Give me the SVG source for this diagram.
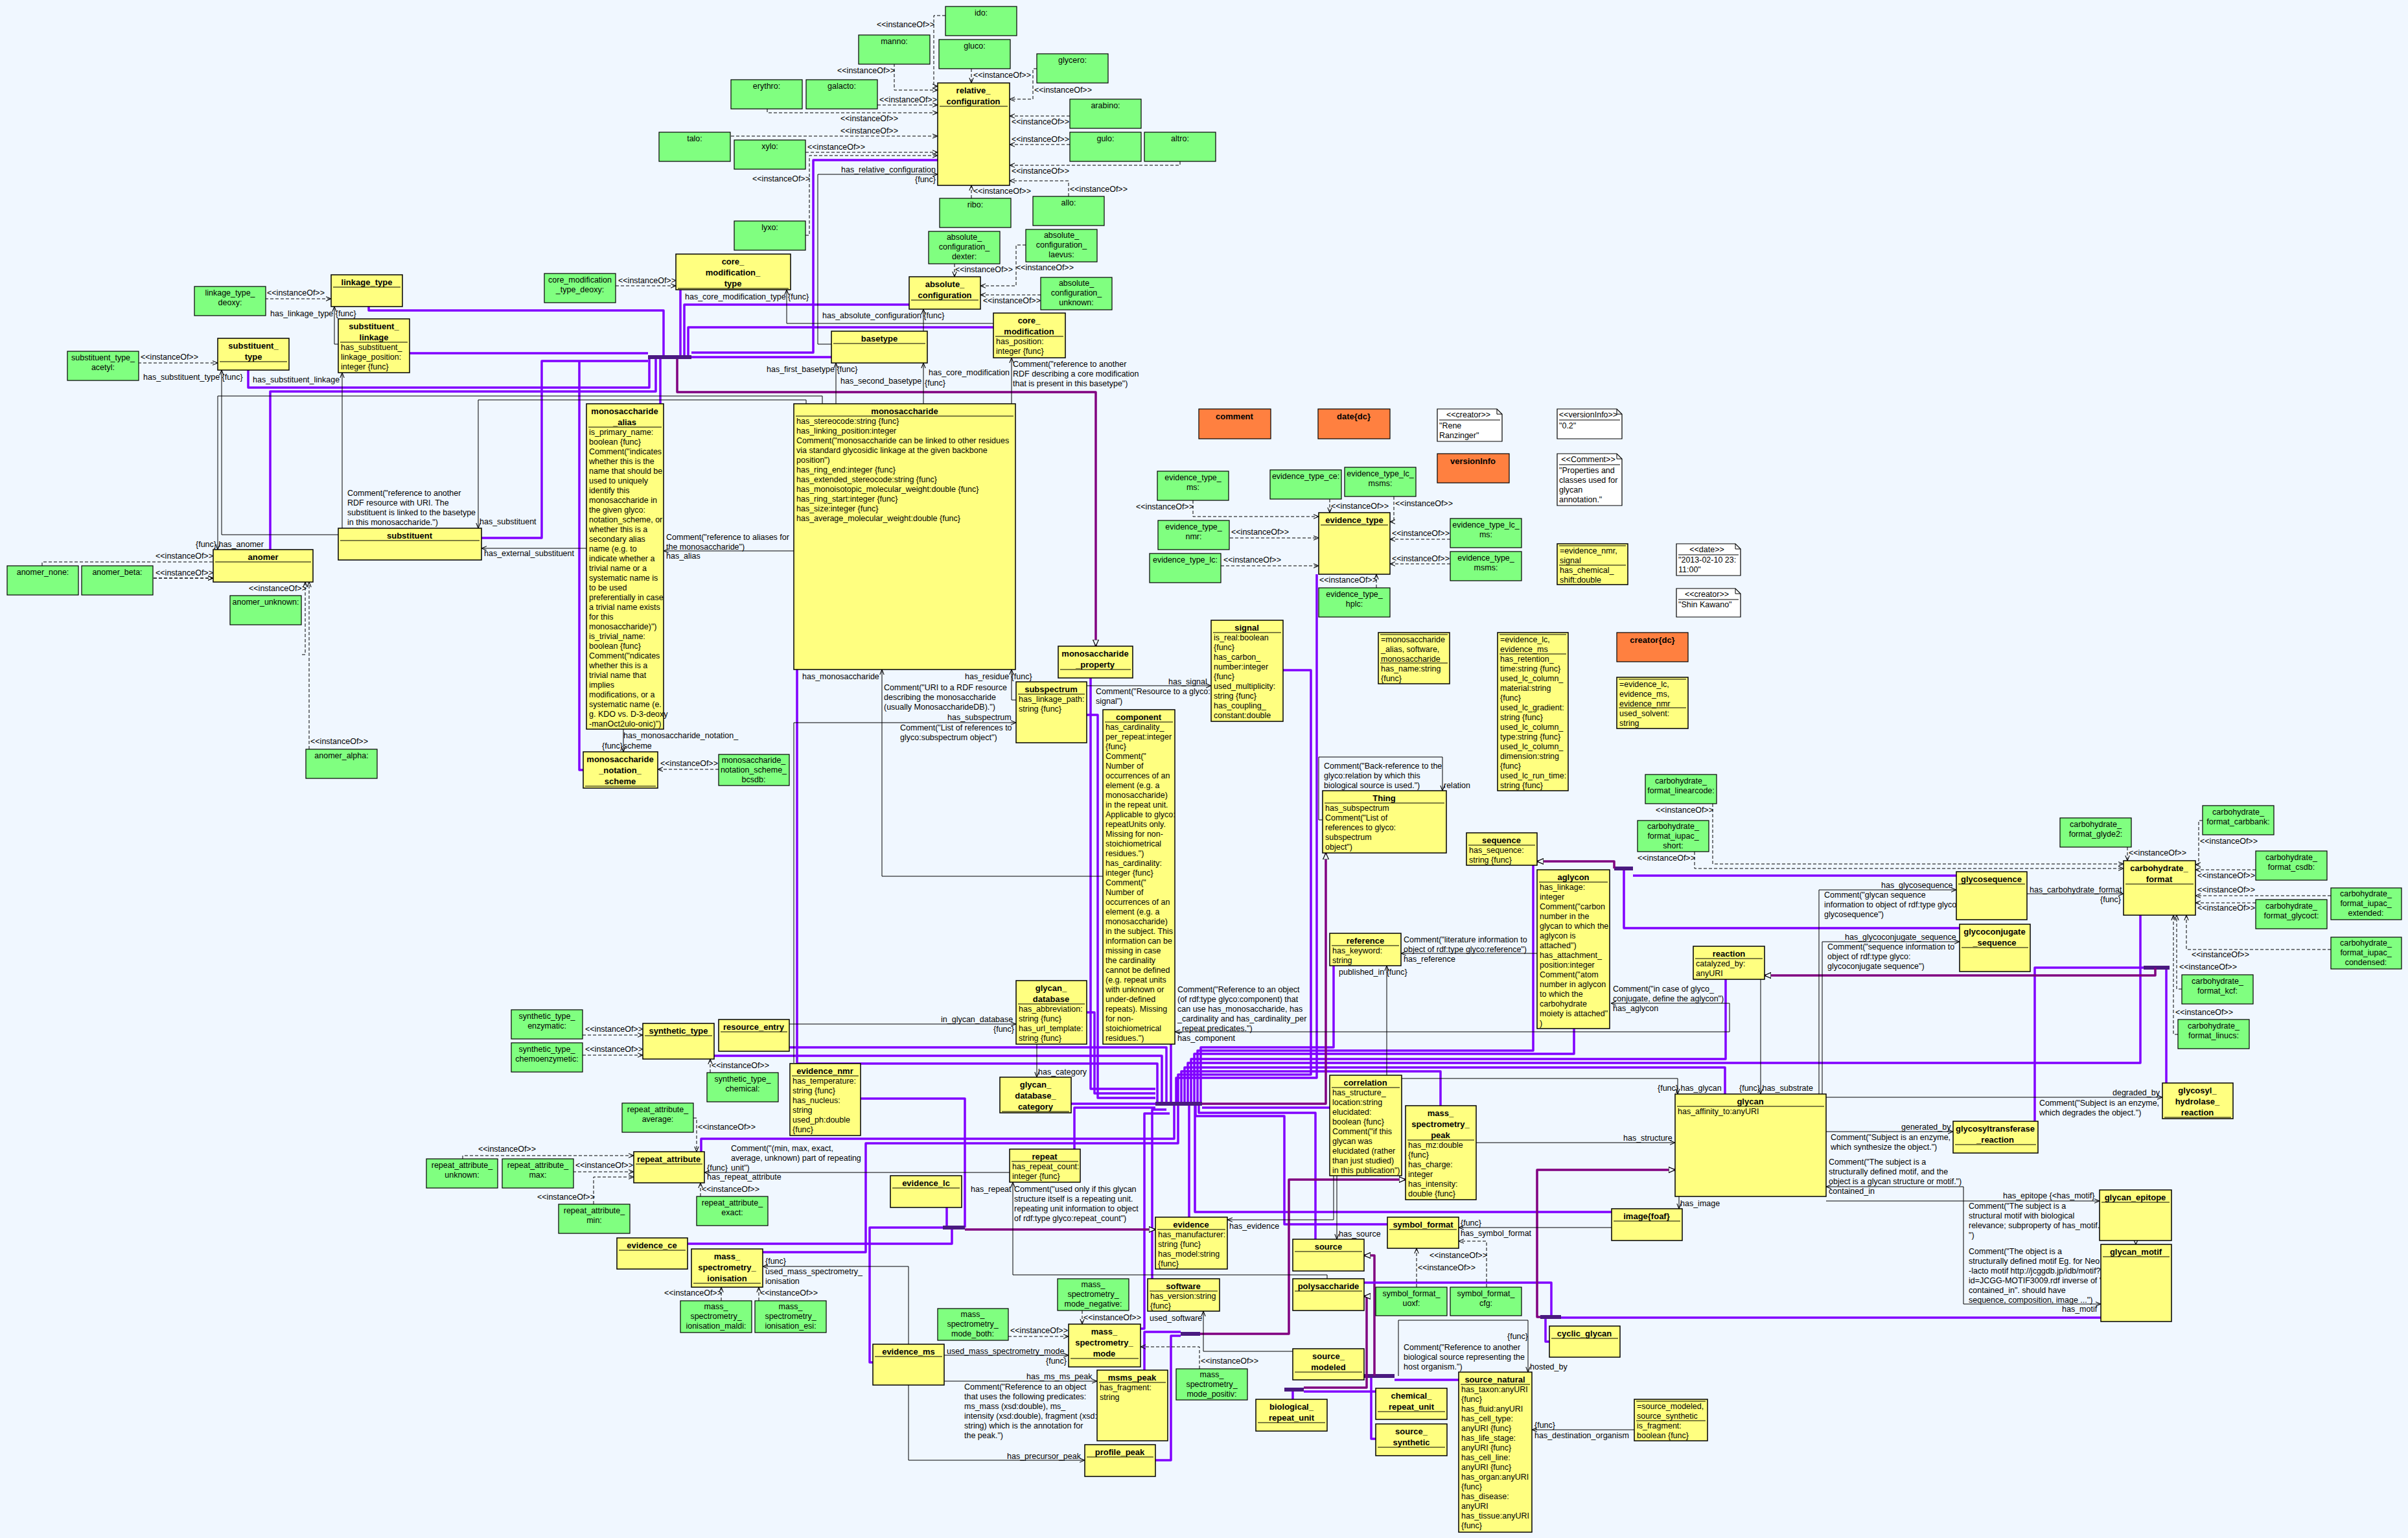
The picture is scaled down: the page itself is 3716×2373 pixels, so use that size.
<svg xmlns="http://www.w3.org/2000/svg" width="3716" height="2373" viewBox="0 0 3716 2373">
<style>
text{font-family:"Liberation Sans",Arial,sans-serif;font-size:12.5px;fill:#000}
.t{font-weight:bold;font-size:13px;text-anchor:middle}
.m{text-anchor:middle}
.y{fill:#ffff80;stroke:#000;stroke-width:1.5}
.g{fill:#80ff80;stroke:#000;stroke-width:1.2}
.o{fill:#ff8040;stroke:#000;stroke-width:1.2}
.n{fill:#fff;stroke:#000;stroke-width:1.2}
.s{stroke:#000;stroke-width:1;fill:none}
.c{stroke:#000;stroke-width:1;fill:none;marker-end:url(#ar)}
.d{stroke-dasharray:5 3}
.p{stroke:#8000ff;stroke-width:3.5;fill:none;stroke-linejoin:round}
.q{stroke:#800080;stroke-width:3.5;fill:none;stroke-linejoin:round;marker-end:url(#tri)}
.bar{stroke:#4a1a80;stroke-width:6;fill:none}
</style>
<defs>
<marker id="ar" viewBox="0 0 10 10" refX="10" refY="5" markerWidth="8" markerHeight="8" orient="auto-start-reverse" markerUnits="userSpaceOnUse"><path d="M0,1 L10,5 L0,9" fill="none" stroke="#000" stroke-width="1.3"/></marker>
<marker id="tri" viewBox="0 0 10 10" refX="10" refY="5" markerWidth="10" markerHeight="10" orient="auto" markerUnits="userSpaceOnUse"><path d="M0,0.5 L10,5 L0,9.5 Z" fill="#f0f7ff" stroke="#000" stroke-width="1.2"/></marker>
</defs>
<rect width="3716" height="2373" fill="#f0f7ff"/>

<g id="connectors">
<!-- generalisation lines (purple) -->
<g id="gen-property">
<path class="p" d="M569 473V479H1024V551M632 545H1000M383 571V598H1002V551M417 848V604H1012V551M743 830H836V557H1000M900 1188H894V557M1019 623V551M1447 247H1255V544H1067M1050 447V551M1403 470H1056V551M1533 505H1062V551M1283 551H1067"/>
<path class="bar" d="M1000 551H1067"/>
<path class="q" d="M1045 554V605H1691V997"/>
</g>
<g id="gen-thing">
<path class="p" d="M1230 1033V1641H1786V1703M1683 1046V1680H1783M1677 1103H1694V1694H1783M1677 1562H1689V1687H1783M1653 1703H1783M1102 1629H1793V1703M1218 1616H1800V1703M1807 1611V1703M1658 1773V1709H1783M1082 1777V1757H1812V1703M1177 1932H1336V1764H1818V1703M1835 1878V1703M1778 1973V1712H1800M1760 2050H1766V1718H1805"/>
<path class="p" d="M2058 1490V1616H1853V1703M2366 1335V1621H1848V1703M2429 1587V1626H1843V1703M2663 1511V1634H1838V1703M3303 1412V1640H1833V1703M2662 1688V1647H1828V1703M2223 1706V1653H1823V1703M1980 1034H2023V1658H1818V1703M2032 886V1663H1815V1703M2052 1709H1855M2030 1912V1717H1850V1703M2141 1889H1982V1722H1845V1703M2487 1870H1844V1703"/>
<path class="bar" d="M1783 1703H1855"/>
<path class="q" d="M1855 1703H2046V1316"/>
</g>
<g id="gen-evidence">
<path class="p" d="M1328 1695H1489V1894M1461 1863V1894M1061 1919H1469V1894M1347 2102H1342V1894H1455"/>
<path class="bar" d="M1455 1894H1489"/>
<path class="q" d="M1489 1897H1783"/>
</g>
<g id="gen-peak">
<path class="p" d="M1766 2114V2055H1822M1783 2253H1807V2061H1822"/>
<path class="bar" d="M1822 2058H1852"/>
<path class="q" d="M1852 2058H1989V1820H2169"/>
</g>
<g id="gen-source">
<path class="p" d="M2251 2129H2152M2123 2220H2116V2123"/>
<path class="bar" d="M2105 2123H2152"/>
<path class="q" d="M2121 2123V1937H2105"/>
</g>
<g id="gen-polysaccharide">
<path class="p" d="M1995 2159V2144M2123 2147H2012"/>
<path class="bar" d="M1982 2144H2012"/>
<path class="q" d="M2012 2141H2109V2000H2105"/>
</g>
<g id="gen-glycan">
<path class="p" d="M2105 1979H2394V2032M2391 2070H2385V2032M3242 2033H2409"/>
<path class="bar" d="M2377 2032H2409"/>
<path class="q" d="M2377 2032H2372V1805H2585"/>
</g>
<g id="gen-reaction">
<path class="p" d="M3140 1730V1493H3308M3343 1671V1493"/>
<path class="bar" d="M3308 1493H3348"/>
<path class="q" d="M3326 1493V1505H2723"/>
</g>
<g id="gen-sequence">
<path class="p" d="M3019 1351H2520M3024 1432H2506V1340"/>
<path class="bar" d="M2491 1340H2520"/>
<path class="q" d="M2491 1340V1329H2372"/>
</g>
<path class="s" d="M3296 1914V1920" marker-end="url(#tri)"/>

<!-- properties and instanceOf links -->
<path class="c d" d="M409 461H511"/>
<path class="c" d="M522 531H516V473"/>
<path class="c d" d="M213 560H336"/>
<path class="c" d="M522 825H342V571"/>
<path class="c" d="M528 815V575"/>
<path class="c" d="M1269 623V611H336V848"/>
<path class="c" d="M1244 623V617H738V815"/>
<path class="c" d="M906 846H743"/>
<path class="c d" d="M65 873V867H329M237 892H329"/>
<path class="c d" d="M237 892H329"/>
<path class="c d" d="M466 1010H471V898"/>
<path class="c d" d="M477 1156V898"/>
<path class="c d" d="M1459 24H1441V133H1447"/>
<path class="c d" d="M1380 98V139H1447"/>
<path class="c d" d="M1499 106V128"/>
<path class="c d" d="M1600 106H1594V153H1558"/>
<path class="c d" d="M1354 162H1447"/>
<path class="c d" d="M1184 168V174H1447"/>
<path class="c d" d="M1128 210H1447"/>
<path class="c d" d="M1243 235H1447"/>
<path class="c d" d="M1243 363H1249V240H1447"/>
<path class="c d" d="M1651 179H1558"/>
<path class="c d" d="M1651 223H1558"/>
<path class="c d" d="M1821 249V255H1558"/>
<path class="c d" d="M1499 306V286"/>
<path class="c d" d="M1649 303V279H1558"/>
<path class="c" d="M1283 531H1262V269H1447"/>
<path class="c d" d="M950 441H1043"/>
<path class="c" d="M1533 499H1214V447"/>
<path class="c d" d="M1473 407V427"/>
<path class="c d" d="M1583 378H1568V441H1513"/>
<path class="c d" d="M1606 455H1513"/>
<path class="c" d="M1425 511V477"/>
<path class="c" d="M1290 623V560"/>
<path class="c" d="M1425 623V560"/>
<path class="c" d="M1561 623V552"/>
<path class="c" d="M1225 850H1024"/>
<path class="c" d="M962 1125V1160"/>
<path class="c d" d="M1109 1187H1015"/>
<path class="c" d="M1702 1352H1361V1033"/>
<path class="c" d="M1568 1080H1561V1033"/>
<path class="c" d="M1225 1640V1115H1568"/>
<path class="c" d="M1677 1058H1869"/>
<path class="c d" d="M1841 772V797H2035"/>
<path class="c d" d="M1898 830H2035"/>
<path class="c d" d="M1884 873H2035"/>
<path class="c d" d="M2052 770V791"/>
<path class="c d" d="M2151 766V805H2145"/>
<path class="c d" d="M2238 832H2145"/>
<path class="c d" d="M2238 870H2145"/>
<path class="c d" d="M2124 907V886"/>
<path class="c" d="M2041 1265H2035V1168H2226V1220"/>
<path class="c d" d="M2643 1240V1333H3277"/>
<path class="c d" d="M2615 1314V1340H3277"/>
<path class="c d" d="M3283 1307V1328"/>
<path class="c d" d="M3399 1266H3393V1334H3388"/>
<path class="c d" d="M3481 1342H3388"/>
<path class="c d" d="M3597 1382H3388"/>
<path class="c d" d="M3481 1393H3388"/>
<path class="c d" d="M3597 1465H3374V1412"/>
<path class="c d" d="M3367 1526H3359V1412"/>
<path class="c d" d="M3361 1596H3354V1412"/>
<path class="c" d="M2807 1688V1373H3019"/>
<path class="c" d="M2812 1688V1453H3024"/>
<path class="c" d="M3128 1379H3277"/>
<path class="c" d="M2818 1693H3337"/>
<path class="c" d="M2818 1746H3014"/>
<path class="c" d="M3242 2012H3030V1831H2818" marker-start="url(#ar)"/>
<path class="c" d="M2818 1853H3240"/>
<path class="c" d="M2372 1471H2162"/>
<path class="c" d="M2140 1659V1490"/>
<path class="c" d="M1813 1592H2669V1548H2486" marker-start="url(#ar)"/>
<path class="c" d="M2163 1664H2589V1688"/>
<path class="c" d="M2717 1511V1688"/>
<path class="c" d="M2278 1763H2585"/>
<path class="c" d="M2591 1846V1865"/>
<path class="c" d="M2058 1814V1882H1894"/>
<path class="c" d="M2063 1814V1912"/>
<path class="c" d="M2487 1894H2251"/>
<path class="c d" d="M2186 1986V1926"/>
<path class="c d" d="M2294 1986V1915H2251"/>
<path class="c" d="M2158 2123V2037H2358V2117"/>
<path class="c" d="M2522 2206H2364"/>
<path class="c" d="M2048 1973V1967H1563V1824"/>
<path class="c" d="M1558 1809H1087"/>
<path class="c d" d="M899 1597H992"/>
<path class="c d" d="M899 1628H992"/>
<path class="c d" d="M1096 1655V1634"/>
<path class="c" d="M1218 1580H1568"/>
<path class="c" d="M1600 1611V1662"/>
<path class="c d" d="M1070 1725H1075V1777"/>
<path class="c d" d="M714 1788V1783H978"/>
<path class="c d" d="M884 1808H978"/>
<path class="c d" d="M916 1858V1816H978"/>
<path class="c d" d="M1081 1846V1825"/>
<path class="c" d="M1402 2074V1954H1177"/>
<path class="c d" d="M1113 2007V1986"/>
<path class="c d" d="M1171 2007V1986"/>
<path class="c" d="M1457 2091H1649"/>
<path class="c" d="M1457 2131H1693"/>
<path class="c" d="M1402 2137V2253H1674"/>
<path class="c d" d="M1670 2022V2043"/>
<path class="c d" d="M1556 2062H1649"/>
<path class="c d" d="M1851 2112V2078H1760"/>
<path class="c" d="M1995 2085H1857V2023"/>

<!-- link labels -->
<g id="labels">
<text x="412" y="456">&lt;&lt;instanceOf&gt;&gt;</text>
<text x="417" y="488">has_linkage_type {func}</text>
<text x="217" y="555">&lt;&lt;instanceOf&gt;&gt;</text>
<text x="221" y="586">has_substituent_type {func}</text>
<text x="390" y="590">has_substituent_linkage</text>
<text x="302" y="844">{func} has_anomer</text>
<text x="740" y="809">has_substituent</text>
<text x="747" y="858">has_external_substituent</text>
<text x="536" y="765">Comment("reference to another</text>
<text x="536" y="780">RDF resource with URI. The</text>
<text x="536" y="795">substituent is linked to the basetype</text>
<text x="536" y="810">in this monosaccharide.")</text>
<text x="240" y="862">&lt;&lt;instanceOf&gt;&gt;</text>
<text x="240" y="888">&lt;&lt;instanceOf&gt;&gt;</text>
<text x="384" y="912">&lt;&lt;instanceOf&gt;&gt;</text>
<text x="479" y="1148">&lt;&lt;instanceOf&gt;&gt;</text>
<text x="1353" y="42">&lt;&lt;instanceOf&gt;&gt;</text>
<text x="1292" y="113">&lt;&lt;instanceOf&gt;&gt;</text>
<text x="1502" y="120">&lt;&lt;instanceOf&gt;&gt;</text>
<text x="1596" y="143">&lt;&lt;instanceOf&gt;&gt;</text>
<text x="1357" y="158">&lt;&lt;instanceOf&gt;&gt;</text>
<text x="1297" y="187">&lt;&lt;instanceOf&gt;&gt;</text>
<text x="1297" y="206">&lt;&lt;instanceOf&gt;&gt;</text>
<text x="1246" y="231">&lt;&lt;instanceOf&gt;&gt;</text>
<text x="1161" y="280">&lt;&lt;instanceOf&gt;&gt;</text>
<text x="1561" y="192">&lt;&lt;instanceOf&gt;&gt;</text>
<text x="1561" y="219">&lt;&lt;instanceOf&gt;&gt;</text>
<text x="1561" y="268">&lt;&lt;instanceOf&gt;&gt;</text>
<text x="1502" y="299">&lt;&lt;instanceOf&gt;&gt;</text>
<text x="1651" y="296">&lt;&lt;instanceOf&gt;&gt;</text>
<text x="1298" y="266">has_relative_configuration</text>
<text x="1412" y="281">{func}</text>
<text x="954" y="437">&lt;&lt;instanceOf&gt;&gt;</text>
<text x="1057" y="462">has_core_modification_type {func}</text>
<text x="1474" y="420">&lt;&lt;instanceOf&gt;&gt;</text>
<text x="1568" y="417">&lt;&lt;instanceOf&gt;&gt;</text>
<text x="1517" y="468">&lt;&lt;instanceOf&gt;&gt;</text>
<text x="1269" y="491">has_absolute_configuration {func}</text>
<text x="1183" y="574">has_first_basetype {func}</text>
<text x="1297" y="592">has_second_basetype</text>
<text x="1427" y="595">{func}</text>
<text x="1433" y="579">has_core_modification</text>
<text x="1563" y="566">Comment("reference to another</text>
<text x="1563" y="581">RDF describing a core modification</text>
<text x="1563" y="596">that is present in this basetype")</text>
<text x="1028" y="833">Comment("reference to aliases for</text>
<text x="1028" y="848">the monosaccharide")</text>
<text x="1028" y="862">has_alias</text>
<text x="962" y="1139">has_monosaccharide_notation_</text>
<text x="929" y="1155">{func}</text>
<text x="962" y="1155">scheme</text>
<text x="1019" y="1182">&lt;&lt;instanceOf&gt;&gt;</text>
<text x="1238" y="1048">has_monosaccharide</text>
<text x="1364" y="1065">Comment("URI to a RDF resource</text>
<text x="1364" y="1080">describing the monosaccharide</text>
<text x="1364" y="1095">(usually MonosaccharideDB).")</text>
<text x="1489" y="1048">has_residue {func}</text>
<text x="1462" y="1111">has_subspectrum</text>
<text x="1389" y="1127">Comment("List of references to</text>
<text x="1389" y="1142">glyco:subspectrum object")</text>
<text x="1803" y="1056">has_signal</text>
<text x="1691" y="1071">Comment("Resource to a glyco:</text>
<text x="1691" y="1086">signal")</text>
<text x="1753" y="786">&lt;&lt;instanceOf&gt;&gt;</text>
<text x="1900" y="825">&lt;&lt;instanceOf&gt;&gt;</text>
<text x="1888" y="868">&lt;&lt;instanceOf&gt;&gt;</text>
<text x="2054" y="785">&lt;&lt;instanceOf&gt;&gt;</text>
<text x="2153" y="781">&lt;&lt;instanceOf&gt;&gt;</text>
<text x="2148" y="827">&lt;&lt;instanceOf&gt;&gt;</text>
<text x="2148" y="866">&lt;&lt;instanceOf&gt;&gt;</text>
<text x="2036" y="899">&lt;&lt;instanceOf&gt;&gt;</text>
<text x="2043" y="1186">Comment("Back-reference to the</text>
<text x="2043" y="1201">glyco:relation by which this</text>
<text x="2043" y="1216">biological source is used.")</text>
<text x="2228" y="1216">relation</text>
<text x="2555" y="1254">&lt;&lt;instanceOf&gt;&gt;</text>
<text x="2527" y="1328">&lt;&lt;instanceOf&gt;&gt;</text>
<text x="3285" y="1320">&lt;&lt;instanceOf&gt;&gt;</text>
<text x="3395" y="1302">&lt;&lt;instanceOf&gt;&gt;</text>
<text x="3391" y="1355">&lt;&lt;instanceOf&gt;&gt;</text>
<text x="3391" y="1377">&lt;&lt;instanceOf&gt;&gt;</text>
<text x="3391" y="1405">&lt;&lt;instanceOf&gt;&gt;</text>
<text x="3382" y="1477">&lt;&lt;instanceOf&gt;&gt;</text>
<text x="3363" y="1496">&lt;&lt;instanceOf&gt;&gt;</text>
<text x="3357" y="1566">&lt;&lt;instanceOf&gt;&gt;</text>
<text x="2903" y="1370">has_glycosequence</text>
<text x="2815" y="1385">Comment("glycan sequence</text>
<text x="2815" y="1400">information to object of rdf:type glyco:</text>
<text x="2815" y="1415">glycosequence")</text>
<text x="2847" y="1450">has_glycoconjugate_sequence</text>
<text x="2820" y="1465">Comment("sequence information to</text>
<text x="2820" y="1480">object of rdf:type glyco:</text>
<text x="2820" y="1495">glycoconjugate sequence")</text>
<text x="3132" y="1377">has_carbohydrate_format</text>
<text x="3241" y="1392">{func}</text>
<text x="3260" y="1690">degraded_by</text>
<text x="3147" y="1706">Comment("Subject is an enzyme,</text>
<text x="3147" y="1721">which degrades the object.")</text>
<text x="2934" y="1743">generated_by</text>
<text x="2825" y="1759">Comment("Subject is an enzyme,</text>
<text x="2825" y="1774">which synthesize the object.")</text>
<text x="2822" y="1797">Comment("The subject is a</text>
<text x="2822" y="1812">structurally defined motif, and the</text>
<text x="2822" y="1827">object is a glycan structure or motif.")</text>
<text x="2822" y="1842">contained_in</text>
<text x="3091" y="1849">has_epitope  {&lt;has_motif}</text>
<text x="3038" y="1865">Comment("The subject is a</text>
<text x="3038" y="1880">structural motif with biological</text>
<text x="3038" y="1895">relevance; subproperty of has_motif.</text>
<text x="3038" y="1910">")</text>
<text x="3038" y="1935">Comment("The object is a</text>
<text x="3038" y="1950">structurally defined motif Eg. for Neo</text>
<text x="3038" y="1965">-lacto motif http://jcggdb.jp/idb/motif?</text>
<text x="3038" y="1980">id=JCGG-MOTIF3009.rdf inverse of "</text>
<text x="3038" y="1995">contained_in". should have</text>
<text x="3038" y="2010">sequence, composition, image ...")</text>
<text x="3182" y="2024">has_motif</text>
<text x="2166" y="1454">Comment("literature information to</text>
<text x="2166" y="1469">object of rdf:type glyco:reference")</text>
<text x="2166" y="1484">has_reference</text>
<text x="2066" y="1504">published_in {func}</text>
<text x="2489" y="1530">Comment("in case of glyco_</text>
<text x="2489" y="1545">conjugate, define the aglycon")</text>
<text x="2489" y="1560">has_aglycon</text>
<text x="1817" y="1531">Comment("Reference to an object</text>
<text x="1817" y="1546">(of rdf:type glyco:component) that</text>
<text x="1817" y="1561">can use has_monosaccharide, has</text>
<text x="1817" y="1576">_cardinality and has_cardinality_per</text>
<text x="1817" y="1591">_repeat predicates.")</text>
<text x="1817" y="1606">has_component</text>
<text x="2558" y="1683">{func} has_glycan</text>
<text x="2684" y="1683">{func} has_substrate</text>
<text x="2505" y="1760">has_structure</text>
<text x="2593" y="1861">has_image</text>
<text x="1897" y="1896">has_evidence</text>
<text x="2066" y="1908">has_source</text>
<text x="2254" y="1891">{func}</text>
<text x="2254" y="1907">has_symbol_format</text>
<text x="2206" y="1941">&lt;&lt;instanceOf&gt;&gt;</text>
<text x="2188" y="1960">&lt;&lt;instanceOf&gt;&gt;</text>
<text x="2326" y="2066">{func}</text>
<text x="2166" y="2083">Comment("Reference to another</text>
<text x="2166" y="2098">biological source representing the</text>
<text x="2166" y="2113">host organism.")</text>
<text x="2361" y="2113">hosted_by</text>
<text x="2368" y="2203">{func}</text>
<text x="2368" y="2219">has_destination_organism</text>
<text x="903" y="1592">&lt;&lt;instanceOf&gt;&gt;</text>
<text x="903" y="1623">&lt;&lt;instanceOf&gt;&gt;</text>
<text x="1098" y="1648">&lt;&lt;instanceOf&gt;&gt;</text>
<text x="1452" y="1577">in_glycan_database</text>
<text x="1533" y="1592">{func}</text>
<text x="1602" y="1658">has_category</text>
<text x="1077" y="1743">&lt;&lt;instanceOf&gt;&gt;</text>
<text x="738" y="1777">&lt;&lt;instanceOf&gt;&gt;</text>
<text x="888" y="1802">&lt;&lt;instanceOf&gt;&gt;</text>
<text x="829" y="1851">&lt;&lt;instanceOf&gt;&gt;</text>
<text x="1083" y="1839">&lt;&lt;instanceOf&gt;&gt;</text>
<text x="1128" y="1776">Comment("(min, max, exact,</text>
<text x="1128" y="1791">average, unknown) part of repeating</text>
<text x="1128" y="1806">unit")</text>
<text x="1091" y="1806">{func}</text>
<text x="1091" y="1820">has_repeat_attribute</text>
<text x="1498" y="1839">has_repeat</text>
<text x="1565" y="1839">Comment("used only if this glycan</text>
<text x="1565" y="1854">structure itself is a repeating unit.</text>
<text x="1565" y="1869">repeating unit information to object</text>
<text x="1565" y="1884">of rdf:type glyco:repeat_count")</text>
<text x="1181" y="1950">{func}</text>
<text x="1181" y="1966">used_mass_spectrometry_</text>
<text x="1181" y="1981">ionisation</text>
<text x="1025" y="1999">&lt;&lt;instanceOf&gt;&gt;</text>
<text x="1173" y="1999">&lt;&lt;instanceOf&gt;&gt;</text>
<text x="1774" y="2038">used_software</text>
<text x="1672" y="2037">&lt;&lt;instanceOf&gt;&gt;</text>
<text x="1559" y="2057">&lt;&lt;instanceOf&gt;&gt;</text>
<text x="1853" y="2104">&lt;&lt;instanceOf&gt;&gt;</text>
<text x="1461" y="2089">used_mass_spectrometry_mode</text>
<text x="1614" y="2104">{func}</text>
<text x="1584" y="2128">has_ms_ms_peak</text>
<text x="1488" y="2144">Comment("Reference to an object</text>
<text x="1488" y="2159">that uses the following predicates:</text>
<text x="1488" y="2174">ms_mass (xsd:double), ms_</text>
<text x="1488" y="2189">intensity (xsd:double), fragment (xsd:</text>
<text x="1488" y="2204">string) which is the annotation for</text>
<text x="1488" y="2219">the peak.")</text>
<text x="1554" y="2251">has_precursor_peak</text>
</g>
</g>

<!-- classes -->
<g id="n-linkage_type"><rect class="y" x="511" y="424" width="110" height="49"/><text class="t" x="566" y="440">linkage_type</text><path class="s" d="M514 443H618"/></g>
<g id="n-substituent_linkage"><rect class="y" x="522" y="492" width="110" height="83"/><text class="t" x="577" y="508">substituent_</text><text class="t" x="577" y="525">linkage</text><path class="s" d="M525 528H629"/><text x="526" y="540">has_substituent_</text><text x="526" y="555">linkage_position:</text><text x="526" y="570">integer {func}</text></g>
<g id="n-substituent_type"><rect class="y" x="336" y="522" width="110" height="49"/><text class="t" x="391" y="538">substituent_</text><text class="t" x="391" y="555">type</text><path class="s" d="M339 558H443"/></g>
<g id="n-substituent"><rect class="y" x="522" y="815" width="221" height="49"/><text class="t" x="632" y="831">substituent</text><path class="s" d="M525 834H740"/></g>
<g id="n-anomer"><rect class="y" x="329" y="848" width="154" height="50"/><text class="t" x="406" y="864">anomer</text><path class="s" d="M332 867H480"/></g>
<g id="n-monosaccharide_alias"><rect class="y" x="905" y="623" width="119" height="502"/><text class="t" x="964" y="639">monosaccharide</text><text class="t" x="964" y="656">_alias</text><path class="s" d="M908 659H1021"/>
<text x="909" y="671"><tspan x="909">is_primary_name:</tspan><tspan x="909" dy="15">boolean {func}</tspan><tspan x="909" dy="15">Comment("indicates</tspan><tspan x="909" dy="15">whether this is the</tspan><tspan x="909" dy="15">name that should be</tspan><tspan x="909" dy="15">used to uniquely</tspan><tspan x="909" dy="15">identify this</tspan><tspan x="909" dy="15">monosaccharide in</tspan><tspan x="909" dy="15">the given glyco:</tspan><tspan x="909" dy="15">notation_scheme, or</tspan><tspan x="909" dy="15">whether this is a</tspan><tspan x="909" dy="15">secondary alias</tspan><tspan x="909" dy="15">name (e.g. to</tspan><tspan x="909" dy="15">indicate whether a</tspan><tspan x="909" dy="15">trivial name or a</tspan><tspan x="909" dy="15">systematic name is</tspan><tspan x="909" dy="15">to be used</tspan><tspan x="909" dy="15">preferentially in case</tspan><tspan x="909" dy="15">a trivial name exists</tspan><tspan x="909" dy="15">for this</tspan><tspan x="909" dy="15">monosaccharide)")</tspan><tspan x="909" dy="15">is_trivial_name:</tspan><tspan x="909" dy="15">boolean {func}</tspan><tspan x="909" dy="15">Comment("ndicates</tspan><tspan x="909" dy="15">whether this is a</tspan><tspan x="909" dy="15">trivial name that</tspan><tspan x="909" dy="15">implies</tspan><tspan x="909" dy="15">modifications, or a</tspan><tspan x="909" dy="15">systematic name (e.</tspan><tspan x="909" dy="15">g. KDO vs. D-3-deoxy</tspan><tspan x="909" dy="15">-manOct2ulo-onic)")</tspan></text></g>
<g id="n-monosaccharide_notation_scheme"><rect class="y" x="900" y="1160" width="115" height="56"/><text class="t" x="957" y="1176">monosaccharide</text><text class="t" x="957" y="1193">_notation_</text><text class="t" x="957" y="1210">scheme</text><path class="s" d="M903 1213H1012"/></g>
<g id="n-core_modification_type"><rect class="y" x="1043" y="392" width="177" height="55"/><text class="t" x="1131" y="408">core_</text><text class="t" x="1131" y="425">modification_</text><text class="t" x="1131" y="442">type</text><path class="s" d="M1046 445H1217"/></g>
<g id="n-relative_configuration"><rect class="y" x="1447" y="128" width="111" height="158"/><text class="t" x="1502" y="144">relative_</text><text class="t" x="1502" y="161">configuration</text><path class="s" d="M1450 164H1555"/></g>
<g id="n-absolute_configuration"><rect class="y" x="1403" y="427" width="110" height="50"/><text class="t" x="1458" y="443">absolute_</text><text class="t" x="1458" y="460">configuration</text><path class="s" d="M1406 463H1510"/></g>
<g id="n-core_modification"><rect class="y" x="1533" y="483" width="111" height="69"/><text class="t" x="1588" y="499">core_</text><text class="t" x="1588" y="516">modification</text><path class="s" d="M1536 519H1641"/><text x="1537" y="531">has_position:</text><text x="1537" y="546">integer {func}</text></g>
<g id="n-basetype"><rect class="y" x="1283" y="511" width="148" height="49"/><text class="t" x="1357" y="527">basetype</text><path class="s" d="M1286 530H1428"/></g>
<g id="n-monosaccharide"><rect class="y" x="1225" y="623" width="342" height="410"/><text class="t" x="1396" y="639">monosaccharide</text><path class="s" d="M1228 642H1564"/>
<text x="1229" y="654"><tspan x="1229">has_stereocode:string {func}</tspan><tspan x="1229" dy="15">has_linking_position:integer</tspan><tspan x="1229" dy="15">Comment("monosaccharide can be linked to other residues</tspan><tspan x="1229" dy="15">via standard glycosidic linkage at the given backbone</tspan><tspan x="1229" dy="15">position")</tspan><tspan x="1229" dy="15">has_ring_end:integer {func}</tspan><tspan x="1229" dy="15">has_extended_stereocode:string {func}</tspan><tspan x="1229" dy="15">has_monoisotopic_molecular_weight:double {func}</tspan><tspan x="1229" dy="15">has_ring_start:integer {func}</tspan><tspan x="1229" dy="15">has_size:integer {func}</tspan><tspan x="1229" dy="15">has_average_molecular_weight:double {func}</tspan></text></g>
<g id="n-monosaccharide_property"><rect class="y" x="1633" y="997" width="115" height="49"/><text class="t" x="1690" y="1013">monosaccharide</text><text class="t" x="1690" y="1030">_property</text><path class="s" d="M1636 1033H1745"/></g>
<g id="n-subspectrum"><rect class="y" x="1568" y="1052" width="109" height="94"/><text class="t" x="1622" y="1068">subspectrum</text><path class="s" d="M1571 1071H1674"/><text x="1572" y="1083">has_linkage_path:</text><text x="1572" y="1098">string {func}</text></g>
<g id="n-component"><rect class="y" x="1702" y="1095" width="111" height="516"/><text class="t" x="1757" y="1111">component</text><path class="s" d="M1705 1114H1810"/>
<text x="1706" y="1126"><tspan x="1706">has_cardinality_</tspan><tspan x="1706" dy="15">per_repeat:integer</tspan><tspan x="1706" dy="15">{func}</tspan><tspan x="1706" dy="15">Comment("</tspan><tspan x="1706" dy="15">Number of</tspan><tspan x="1706" dy="15">occurrences of an</tspan><tspan x="1706" dy="15">element (e.g. a</tspan><tspan x="1706" dy="15">monosaccharide)</tspan><tspan x="1706" dy="15">in the repeat unit.</tspan><tspan x="1706" dy="15">Applicable to glyco:</tspan><tspan x="1706" dy="15">repeatUnits only.</tspan><tspan x="1706" dy="15">Missing for non-</tspan><tspan x="1706" dy="15">stoichiometrical</tspan><tspan x="1706" dy="15">residues.")</tspan><tspan x="1706" dy="15">has_cardinality:</tspan><tspan x="1706" dy="15">integer {func}</tspan><tspan x="1706" dy="15">Comment("</tspan><tspan x="1706" dy="15">Number of</tspan><tspan x="1706" dy="15">occurrences of an</tspan><tspan x="1706" dy="15">element (e.g. a</tspan><tspan x="1706" dy="15">monosaccharide)</tspan><tspan x="1706" dy="15">in the subject. This</tspan><tspan x="1706" dy="15">information can be</tspan><tspan x="1706" dy="15">missing in case</tspan><tspan x="1706" dy="15">the cardinality</tspan><tspan x="1706" dy="15">cannot be defined</tspan><tspan x="1706" dy="15">(e.g. repeat units</tspan><tspan x="1706" dy="15">with unknown or</tspan><tspan x="1706" dy="15">under-defined</tspan><tspan x="1706" dy="15">repeats). Missing</tspan><tspan x="1706" dy="15">for non-</tspan><tspan x="1706" dy="15">stoichiometrical</tspan><tspan x="1706" dy="15">residues.")</tspan></text></g>
<g id="n-signal"><rect class="y" x="1869" y="957" width="111" height="156"/><text class="t" x="1924" y="973">signal</text><path class="s" d="M1872 976H1977"/>
<text x="1873" y="988"><tspan x="1873">is_real:boolean</tspan><tspan x="1873" dy="15">{func}</tspan><tspan x="1873" dy="15">has_carbon_</tspan><tspan x="1873" dy="15">number:integer</tspan><tspan x="1873" dy="15">{func}</tspan><tspan x="1873" dy="15">used_multiplicity:</tspan><tspan x="1873" dy="15">string {func}</tspan><tspan x="1873" dy="15">has_coupling_</tspan><tspan x="1873" dy="15">constant:double</tspan></text></g>
<g id="n-evidence_type"><rect class="y" x="2035" y="791" width="110" height="95"/><text class="t" x="2090" y="807">evidence_type</text><path class="s" d="M2038 810H2142"/></g>
<g id="n-Thing"><rect class="y" x="2041" y="1220" width="191" height="96"/><text class="t" x="2136" y="1236">Thing</text><path class="s" d="M2044 1239H2229"/>
<text x="2045" y="1251"><tspan x="2045">has_subspectrum</tspan><tspan x="2045" dy="15">Comment("List of</tspan><tspan x="2045" dy="15">references to glyco:</tspan><tspan x="2045" dy="15">subspectrum</tspan><tspan x="2045" dy="15">object")</tspan></text></g>
<g id="n-sequence"><rect class="y" x="2263" y="1285" width="109" height="50"/><text class="t" x="2317" y="1301">sequence</text><path class="s" d="M2266 1304H2369"/><text x="2267" y="1316">has_sequence:</text><text x="2267" y="1331">string {func}</text></g>
<g id="n-aglycon"><rect class="y" x="2372" y="1342" width="112" height="245"/><text class="t" x="2428" y="1358">aglycon</text><path class="s" d="M2375 1361H2481"/>
<text x="2376" y="1373"><tspan x="2376">has_linkage:</tspan><tspan x="2376" dy="15">integer</tspan><tspan x="2376" dy="15">Comment("carbon</tspan><tspan x="2376" dy="15">number in the</tspan><tspan x="2376" dy="15">glycan to which the</tspan><tspan x="2376" dy="15">aglycon is</tspan><tspan x="2376" dy="15">attached")</tspan><tspan x="2376" dy="15">has_attachment_</tspan><tspan x="2376" dy="15">position:integer</tspan><tspan x="2376" dy="15">Comment("atom</tspan><tspan x="2376" dy="15">number in aglycon</tspan><tspan x="2376" dy="15">to which the</tspan><tspan x="2376" dy="15">carbohydrate</tspan><tspan x="2376" dy="15">moiety is attached"</tspan><tspan x="2376" dy="15">)</tspan></text></g>
<g id="n-reference"><rect class="y" x="2052" y="1440" width="110" height="50"/><text class="t" x="2107" y="1456">reference</text><path class="s" d="M2055 1459H2159"/><text x="2056" y="1471">has_keyword:</text><text x="2056" y="1486">string</text></g>
<g id="n-reaction"><rect class="y" x="2613" y="1460" width="110" height="51"/><text class="t" x="2668" y="1476">reaction</text><path class="s" d="M2616 1479H2720"/><text x="2617" y="1491">catalyzed_by:</text><text x="2617" y="1506">anyURI</text></g>
<g id="n-carbohydrate_format"><rect class="y" x="3277" y="1328" width="111" height="84"/><text class="t" x="3332" y="1344">carbohydrate_</text><text class="t" x="3332" y="1361">format</text><path class="s" d="M3280 1364H3385"/></g>
<g id="n-glycosequence"><rect class="y" x="3019" y="1345" width="109" height="74"/><text class="t" x="3073" y="1361">glycosequence</text><path class="s" d="M3022 1364H3125"/></g>
<g id="n-glycoconjugate_sequence"><rect class="y" x="3024" y="1426" width="109" height="73"/><text class="t" x="3078" y="1442">glycoconjugate</text><text class="t" x="3078" y="1459">_sequence</text><path class="s" d="M3027 1462H3130"/></g>
<g id="n-glycosyl_hydrolase_reaction"><rect class="y" x="3337" y="1671" width="109" height="55"/><text class="t" x="3391" y="1687">glycosyl_</text><text class="t" x="3391" y="1704">hydrolase_</text><text class="t" x="3391" y="1721">reaction</text><path class="s" d="M3340 1724H3443"/></g>
<g id="n-glycosyltransferase_reaction"><rect class="y" x="3014" y="1730" width="131" height="49"/><text class="t" x="3079" y="1746">glycosyltransferase</text><text class="t" x="3079" y="1763">_reaction</text><path class="s" d="M3017 1766H3142"/></g>
<g id="n-glycan"><rect class="y" x="2585" y="1688" width="233" height="158"/><text class="t" x="2701" y="1704">glycan</text><path class="s" d="M2588 1707H2815"/><text x="2589" y="1719">has_affinity_to:anyURI</text></g>
<g id="n-glycan_epitope"><rect class="y" x="3240" y="1836" width="111" height="78"/><text class="t" x="3295" y="1852">glycan_epitope</text><path class="s" d="M3243 1855H3348"/></g>
<g id="n-glycan_motif"><rect class="y" x="3242" y="1920" width="109" height="119"/><text class="t" x="3296" y="1936">glycan_motif</text><path class="s" d="M3245 1939H3348"/></g>
<g id="n-correlation"><rect class="y" x="2052" y="1659" width="111" height="155"/><text class="t" x="2107" y="1675">correlation</text><path class="s" d="M2055 1678H2160"/>
<text x="2056" y="1690"><tspan x="2056">has_structure_</tspan><tspan x="2056" dy="15">location:string</tspan><tspan x="2056" dy="15">elucidated:</tspan><tspan x="2056" dy="15">boolean {func}</tspan><tspan x="2056" dy="15">Comment("if this</tspan><tspan x="2056" dy="15">glycan was</tspan><tspan x="2056" dy="15">elucidated (rather</tspan><tspan x="2056" dy="15">than just studied)</tspan><tspan x="2056" dy="15">in this publication")</tspan></text></g>
<g id="n-mass_spectrometry_peak"><rect class="y" x="2169" y="1706" width="109" height="145"/><text class="t" x="2223" y="1722">mass_</text><text class="t" x="2223" y="1739">spectrometry_</text><text class="t" x="2223" y="1756">peak</text><path class="s" d="M2172 1759H2275"/>
<text x="2173" y="1771"><tspan x="2173">has_mz:double</tspan><tspan x="2173" dy="15">{func}</tspan><tspan x="2173" dy="15">has_charge:</tspan><tspan x="2173" dy="15">integer</tspan><tspan x="2173" dy="15">has_intensity:</tspan><tspan x="2173" dy="15">double {func}</tspan></text></g>
<g id="n-symbol_format"><rect class="y" x="2141" y="1878" width="110" height="48"/><text class="t" x="2196" y="1894">symbol_format</text><path class="s" d="M2144 1897H2248"/></g>
<g id="n-image"><rect class="y" x="2487" y="1865" width="109" height="49"/><text class="t" x="2541" y="1881">image{foaf}</text><path class="s" d="M2490 1884H2593"/></g>
<g id="n-source"><rect class="y" x="1995" y="1912" width="110" height="49"/><text class="t" x="2050" y="1928">source</text><path class="s" d="M1998 1931H2102"/></g>
<g id="n-polysaccharide"><rect class="y" x="1995" y="1973" width="110" height="49"/><text class="t" x="2050" y="1989">polysaccharide</text><path class="s" d="M1998 1992H2102"/></g>
<g id="n-cyclic_glycan"><rect class="y" x="2391" y="2046" width="109" height="48"/><text class="t" x="2445" y="2062">cyclic_glycan</text><path class="s" d="M2394 2065H2497"/></g>
<g id="n-source_modeled"><rect class="y" x="1995" y="2081" width="110" height="48"/><text class="t" x="2050" y="2097">source_</text><text class="t" x="2050" y="2114">modeled</text><path class="s" d="M1998 2117H2102"/></g>
<g id="n-biological_repeat_unit"><rect class="y" x="1938" y="2159" width="110" height="49"/><text class="t" x="1993" y="2175">biological_</text><text class="t" x="1993" y="2192">repeat_unit</text><path class="s" d="M1941 2195H2045"/></g>
<g id="n-chemical_repeat_unit"><rect class="y" x="2123" y="2142" width="110" height="48"/><text class="t" x="2178" y="2158">chemical_</text><text class="t" x="2178" y="2175">repeat_unit</text><path class="s" d="M2126 2178H2230"/></g>
<g id="n-source_synthetic"><rect class="y" x="2123" y="2197" width="110" height="49"/><text class="t" x="2178" y="2213">source_</text><text class="t" x="2178" y="2230">synthetic</text><path class="s" d="M2126 2233H2230"/></g>
<g id="n-source_natural"><rect class="y" x="2251" y="2117" width="113" height="247"/><text class="t" x="2307" y="2133">source_natural</text><path class="s" d="M2254 2136H2361"/>
<text x="2255" y="2148"><tspan x="2255">has_taxon:anyURI</tspan><tspan x="2255" dy="15">{func}</tspan><tspan x="2255" dy="15">has_fluid:anyURI</tspan><tspan x="2255" dy="15">has_cell_type:</tspan><tspan x="2255" dy="15">anyURI {func}</tspan><tspan x="2255" dy="15">has_life_stage:</tspan><tspan x="2255" dy="15">anyURI {func}</tspan><tspan x="2255" dy="15">has_cell_line:</tspan><tspan x="2255" dy="15">anyURI {func}</tspan><tspan x="2255" dy="15">has_organ:anyURI</tspan><tspan x="2255" dy="15">{func}</tspan><tspan x="2255" dy="15">has_disease:</tspan><tspan x="2255" dy="15">anyURI</tspan><tspan x="2255" dy="15">has_tissue:anyURI</tspan><tspan x="2255" dy="15">{func}</tspan></text></g>
<g id="n-synthetic_type"><rect class="y" x="992" y="1579" width="110" height="55"/><text class="t" x="1047" y="1595">synthetic_type</text><path class="s" d="M995 1598H1099"/></g>
<g id="n-resource_entry"><rect class="y" x="1109" y="1573" width="109" height="49"/><text class="t" x="1163" y="1589">resource_entry</text><path class="s" d="M1112 1592H1215"/></g>
<g id="n-glycan_database"><rect class="y" x="1568" y="1513" width="109" height="98"/><text class="t" x="1622" y="1529">glycan_</text><text class="t" x="1622" y="1546">database</text><path class="s" d="M1571 1549H1674"/><text x="1572" y="1561"><tspan x="1572">has_abbreviation:</tspan><tspan x="1572" dy="15">string {func}</tspan><tspan x="1572" dy="15">has_url_template:</tspan><tspan x="1572" dy="15">string {func}</tspan></text></g>
<g id="n-glycan_database_category"><rect class="y" x="1543" y="1662" width="110" height="55"/><text class="t" x="1598" y="1678">glycan_</text><text class="t" x="1598" y="1695">database_</text><text class="t" x="1598" y="1712">category</text><path class="s" d="M1546 1715H1650"/></g>
<g id="n-evidence_nmr"><rect class="y" x="1219" y="1641" width="109" height="111"/><text class="t" x="1273" y="1657">evidence_nmr</text><path class="s" d="M1222 1660H1325"/><text x="1223" y="1672"><tspan x="1223">has_temperature:</tspan><tspan x="1223" dy="15">string {func}</tspan><tspan x="1223" dy="15">has_nucleus:</tspan><tspan x="1223" dy="15">string</tspan><tspan x="1223" dy="15">used_ph:double</tspan><tspan x="1223" dy="15">{func}</tspan></text></g>
<g id="n-repeat_attribute"><rect class="y" x="978" y="1777" width="109" height="48"/><text class="t" x="1032" y="1793">repeat_attribute</text><path class="s" d="M981 1796H1084"/></g>
<g id="n-repeat"><rect class="y" x="1558" y="1773" width="109" height="51"/><text class="t" x="1612" y="1789">repeat</text><path class="s" d="M1561 1792H1664"/><text x="1562" y="1804">has_repeat_count:</text><text x="1562" y="1819">integer {func}</text></g>
<g id="n-evidence_lc"><rect class="y" x="1374" y="1814" width="110" height="49"/><text class="t" x="1429" y="1830">evidence_lc</text><path class="s" d="M1377 1833H1481"/></g>
<g id="n-evidence_ce"><rect class="y" x="952" y="1910" width="109" height="48"/><text class="t" x="1006" y="1926">evidence_ce</text><path class="s" d="M955 1929H1058"/></g>
<g id="n-mass_spectrometry_ionisation"><rect class="y" x="1067" y="1927" width="110" height="59"/><text class="t" x="1122" y="1943">mass_</text><text class="t" x="1122" y="1960">spectrometry_</text><text class="t" x="1122" y="1977">ionisation</text><path class="s" d="M1070 1980H1174"/></g>
<g id="n-evidence"><rect class="y" x="1783" y="1878" width="111" height="80"/><text class="t" x="1838" y="1894">evidence</text><path class="s" d="M1786 1897H1891"/><text x="1787" y="1909"><tspan x="1787">has_manufacturer:</tspan><tspan x="1787" dy="15">string {func}</tspan><tspan x="1787" dy="15">has_model:string</tspan><tspan x="1787" dy="15">{func}</tspan></text></g>
<g id="n-software"><rect class="y" x="1771" y="1973" width="111" height="50"/><text class="t" x="1826" y="1989">software</text><path class="s" d="M1774 1992H1879"/><text x="1775" y="2004">has_version:string</text><text x="1775" y="2019">{func}</text></g>
<g id="n-mass_spectrometry_mode"><rect class="y" x="1649" y="2043" width="111" height="66"/><text class="t" x="1704" y="2059">mass_</text><text class="t" x="1704" y="2076">spectrometry_</text><text class="t" x="1704" y="2093">mode</text><path class="s" d="M1652 2096H1757"/></g>
<g id="n-evidence_ms"><rect class="y" x="1347" y="2074" width="110" height="63"/><text class="t" x="1402" y="2090">evidence_ms</text><path class="s" d="M1350 2093H1454"/></g>
<g id="n-msms_peak"><rect class="y" x="1693" y="2114" width="109" height="109"/><text class="t" x="1747" y="2130">msms_peak</text><path class="s" d="M1696 2133H1799"/><text x="1697" y="2145">has_fragment:</text><text x="1697" y="2160">string</text></g>
<g id="n-profile_peak"><rect class="y" x="1674" y="2229" width="109" height="49"/><text class="t" x="1728" y="2245">profile_peak</text><path class="s" d="M1677 2248H1780"/></g>

<!-- restriction boxes -->
<g id="n-r-name"><rect class="y" x="2127" y="976" width="110" height="79"/><path class="s" d="M2130 979H2234M2130 1023H2234"/><text x="2131" y="991"><tspan x="2131">=monosaccharide</tspan><tspan x="2131" dy="15">_alias, software,</tspan><tspan x="2131" dy="15">monosaccharide</tspan><tspan x="2131" dy="15">has_name:string</tspan><tspan x="2131" dy="15">{func}</tspan></text></g>
<g id="n-r-lc"><rect class="y" x="2311" y="976" width="109" height="244"/><path class="s" d="M2314 979H2417M2314 1009H2417"/><text x="2315" y="991"><tspan x="2315">=evidence_lc,</tspan><tspan x="2315" dy="15">evidence_ms</tspan><tspan x="2315" dy="15">has_retention_</tspan><tspan x="2315" dy="15">time:string {func}</tspan><tspan x="2315" dy="15">used_lc_column_</tspan><tspan x="2315" dy="15">material:string</tspan><tspan x="2315" dy="15">{func}</tspan><tspan x="2315" dy="15">used_lc_gradient:</tspan><tspan x="2315" dy="15">string {func}</tspan><tspan x="2315" dy="15">used_lc_column_</tspan><tspan x="2315" dy="15">type:string {func}</tspan><tspan x="2315" dy="15">used_lc_column_</tspan><tspan x="2315" dy="15">dimension:string</tspan><tspan x="2315" dy="15">{func}</tspan><tspan x="2315" dy="15">used_lc_run_time:</tspan><tspan x="2315" dy="15">string {func}</tspan></text></g>
<g id="n-r-shift"><rect class="y" x="2403" y="839" width="109" height="63"/><path class="s" d="M2406 842H2509M2406 872H2509"/><text x="2407" y="854"><tspan x="2407">=evidence_nmr,</tspan><tspan x="2407" dy="15">signal</tspan><tspan x="2407" dy="15">has_chemical_</tspan><tspan x="2407" dy="15">shift:double</tspan></text></g>
<g id="n-r-solvent"><rect class="y" x="2495" y="1045" width="110" height="79"/><path class="s" d="M2498 1048H2602M2498 1092H2602"/><text x="2499" y="1060"><tspan x="2499">=evidence_lc,</tspan><tspan x="2499" dy="15">evidence_ms,</tspan><tspan x="2499" dy="15">evidence_nmr</tspan><tspan x="2499" dy="15">used_solvent:</tspan><tspan x="2499" dy="15">string</tspan></text></g>
<g id="n-r-fragment"><rect class="y" x="2522" y="2159" width="113" height="64"/><path class="s" d="M2525 2162H2632M2525 2192H2632"/><text x="2526" y="2174"><tspan x="2526">=source_modeled,</tspan><tspan x="2526" dy="15">source_synthetic</tspan><tspan x="2526" dy="15">is_fragment:</tspan><tspan x="2526" dy="15">boolean {func}</tspan></text></g>

<!-- annotation properties -->
<g id="n-comment"><rect class="o" x="1850" y="631" width="111" height="46"/><text class="t" x="1905" y="647">comment</text></g>
<g id="n-date"><rect class="o" x="2034" y="631" width="111" height="46"/><text class="t" x="2089" y="647">date{dc}</text></g>
<g id="n-versionInfo"><rect class="o" x="2218" y="700" width="111" height="45"/><text class="t" x="2273" y="716">versionInfo</text></g>
<g id="n-creator"><rect class="o" x="2495" y="976" width="110" height="45"/><text class="t" x="2550" y="992">creator{dc}</text></g>

<!-- ontology notes -->
<g id="n-note-creator1"><path class="n" d="M2218 631H2310L2318 639V681H2218Z"/><path class="s" d="M2310 631V639H2318M2221 648H2315"/><text class="m" x="2266" y="644">&lt;&lt;creator&gt;&gt;</text><text x="2221" y="661">"Rene</text><text x="2221" y="676">Ranzinger"</text></g>
<g id="n-note-version"><path class="n" d="M2403 631H2495L2503 639V677H2403Z"/><path class="s" d="M2495 631V639H2503M2406 648H2500"/><text class="m" x="2451" y="644">&lt;&lt;versionInfo&gt;&gt;</text><text x="2406" y="661">"0.2"</text></g>
<g id="n-note-comment"><path class="n" d="M2403 700H2495L2503 708V780H2403Z"/><path class="s" d="M2495 700V708H2503M2406 717H2500"/><text class="m" x="2451" y="713">&lt;&lt;Comment&gt;&gt;</text><text x="2406" y="730"><tspan x="2406">"Properties and</tspan><tspan x="2406" dy="15">classes used for</tspan><tspan x="2406" dy="15">glycan</tspan><tspan x="2406" dy="15">annotation."</tspan></text></g>
<g id="n-note-date"><path class="n" d="M2587 839H2678L2686 847V888H2587Z"/><path class="s" d="M2678 839V847H2686M2590 856H2683"/><text class="m" x="2634" y="852">&lt;&lt;date&gt;&gt;</text><text x="2590" y="868">"2013-02-10 23:</text><text x="2590" y="883">11:00"</text></g>
<g id="n-note-creator2"><path class="n" d="M2587 908H2678L2686 916V952H2587Z"/><path class="s" d="M2678 908V916H2686M2590 925H2683"/><text class="m" x="2634" y="921">&lt;&lt;creator&gt;&gt;</text><text x="2590" y="937">"Shin Kawano"</text></g>

<!-- individuals -->
<g id="i-linkage_type_deoxy"><rect class="g" x="300" y="442" width="110" height="45"/><text class="m" x="355" y="456">linkage_type_</text><text class="m" x="355" y="471">deoxy:</text></g>
<g id="i-core_modification_type_deoxy"><rect class="g" x="840" y="422" width="110" height="45"/><text class="m" x="895" y="436">core_modification</text><text class="m" x="895" y="451">_type_deoxy:</text></g>
<g id="i-substituent_type_acetyl"><rect class="g" x="104" y="542" width="110" height="45"/><text class="m" x="159" y="556">substituent_type_</text><text class="m" x="159" y="571">acetyl:</text></g>
<g id="i-anomer_none"><rect class="g" x="11" y="873" width="110" height="45"/><text class="m" x="66" y="887">anomer_none:</text></g>
<g id="i-anomer_beta"><rect class="g" x="126" y="873" width="110" height="45"/><text class="m" x="181" y="887">anomer_beta:</text></g>
<g id="i-anomer_unknown"><rect class="g" x="355" y="919" width="110" height="45"/><text class="m" x="410" y="933">anomer_unknown:</text></g>
<g id="i-anomer_alpha"><rect class="g" x="472" y="1156" width="110" height="45"/><text class="m" x="527" y="1170">anomer_alpha:</text></g>
<g id="i-ido"><rect class="g" x="1459" y="10" width="110" height="45"/><text class="m" x="1514" y="24">ido:</text></g>
<g id="i-manno"><rect class="g" x="1325" y="54" width="110" height="45"/><text class="m" x="1380" y="68">manno:</text></g>
<g id="i-gluco"><rect class="g" x="1449" y="61" width="110" height="45"/><text class="m" x="1504" y="75">gluco:</text></g>
<g id="i-glycero"><rect class="g" x="1600" y="83" width="110" height="45"/><text class="m" x="1655" y="97">glycero:</text></g>
<g id="i-erythro"><rect class="g" x="1128" y="123" width="110" height="45"/><text class="m" x="1183" y="137">erythro:</text></g>
<g id="i-galacto"><rect class="g" x="1244" y="123" width="110" height="45"/><text class="m" x="1299" y="137">galacto:</text></g>
<g id="i-arabino"><rect class="g" x="1651" y="153" width="110" height="45"/><text class="m" x="1706" y="167">arabino:</text></g>
<g id="i-talo"><rect class="g" x="1017" y="204" width="110" height="45"/><text class="m" x="1072" y="218">talo:</text></g>
<g id="i-xylo"><rect class="g" x="1133" y="216" width="110" height="45"/><text class="m" x="1188" y="230">xylo:</text></g>
<g id="i-gulo"><rect class="g" x="1651" y="204" width="110" height="45"/><text class="m" x="1706" y="218">gulo:</text></g>
<g id="i-altro"><rect class="g" x="1766" y="204" width="110" height="45"/><text class="m" x="1821" y="218">altro:</text></g>
<g id="i-ribo"><rect class="g" x="1450" y="306" width="110" height="45"/><text class="m" x="1505" y="320">ribo:</text></g>
<g id="i-allo"><rect class="g" x="1594" y="303" width="110" height="45"/><text class="m" x="1649" y="317">allo:</text></g>
<g id="i-lyxo"><rect class="g" x="1133" y="341" width="110" height="45"/><text class="m" x="1188" y="355">lyxo:</text></g>
<g id="i-absolute_configuration_dexter"><rect class="g" x="1433" y="357" width="110" height="50"/><text class="m" x="1488" y="370">absolute_</text><text class="m" x="1488" y="385">configuration_</text><text class="m" x="1488" y="400">dexter:</text></g>
<g id="i-absolute_configuration_laevus"><rect class="g" x="1583" y="354" width="110" height="50"/><text class="m" x="1638" y="367">absolute_</text><text class="m" x="1638" y="382">configuration_</text><text class="m" x="1638" y="397">laevus:</text></g>
<g id="i-absolute_configuration_unknown"><rect class="g" x="1606" y="428" width="110" height="50"/><text class="m" x="1661" y="441">absolute_</text><text class="m" x="1661" y="456">configuration_</text><text class="m" x="1661" y="471">unknown:</text></g>
<g id="i-notation_scheme_bcsdb"><rect class="g" x="1109" y="1164" width="109" height="48"/><text class="m" x="1163" y="1177">monosaccharide_</text><text class="m" x="1163" y="1192">notation_scheme_</text><text class="m" x="1163" y="1207">bcsdb:</text></g>
<g id="i-evidence_type_ms"><rect class="g" x="1786" y="727" width="110" height="45"/><text class="m" x="1841" y="741">evidence_type_</text><text class="m" x="1841" y="756">ms:</text></g>
<g id="i-evidence_type_nmr"><rect class="g" x="1787" y="803" width="110" height="45"/><text class="m" x="1842" y="817">evidence_type_</text><text class="m" x="1842" y="832">nmr:</text></g>
<g id="i-evidence_type_lc"><rect class="g" x="1774" y="854" width="110" height="45"/><text class="m" x="1829" y="868">evidence_type_lc:</text></g>
<g id="i-evidence_type_ce"><rect class="g" x="1960" y="725" width="110" height="45"/><text class="m" x="2015" y="739">evidence_type_ce:</text></g>
<g id="i-evidence_type_lc_msms"><rect class="g" x="2075" y="721" width="110" height="45"/><text class="m" x="2130" y="735">evidence_type_lc_</text><text class="m" x="2130" y="750">msms:</text></g>
<g id="i-evidence_type_lc_ms"><rect class="g" x="2238" y="800" width="110" height="45"/><text class="m" x="2293" y="814">evidence_type_lc_</text><text class="m" x="2293" y="829">ms:</text></g>
<g id="i-evidence_type_msms"><rect class="g" x="2238" y="851" width="110" height="45"/><text class="m" x="2293" y="865">evidence_type_</text><text class="m" x="2293" y="880">msms:</text></g>
<g id="i-evidence_type_hplc"><rect class="g" x="2035" y="907" width="110" height="45"/><text class="m" x="2090" y="921">evidence_type_</text><text class="m" x="2090" y="936">hplc:</text></g>
<g id="i-cf_linearcode"><rect class="g" x="2539" y="1195" width="110" height="45"/><text class="m" x="2594" y="1209">carbohydrate_</text><text class="m" x="2594" y="1224">format_linearcode:</text></g>
<g id="i-cf_iupac_short"><rect class="g" x="2527" y="1266" width="110" height="48"/><text class="m" x="2582" y="1279">carbohydrate_</text><text class="m" x="2582" y="1294">format_iupac_</text><text class="m" x="2582" y="1309">short:</text></g>
<g id="i-cf_glyde2"><rect class="g" x="3179" y="1262" width="110" height="45"/><text class="m" x="3234" y="1276">carbohydrate_</text><text class="m" x="3234" y="1291">format_glyde2:</text></g>
<g id="i-cf_carbbank"><rect class="g" x="3399" y="1243" width="110" height="45"/><text class="m" x="3454" y="1257">carbohydrate_</text><text class="m" x="3454" y="1272">format_carbbank:</text></g>
<g id="i-cf_csdb"><rect class="g" x="3481" y="1313" width="110" height="45"/><text class="m" x="3536" y="1327">carbohydrate_</text><text class="m" x="3536" y="1342">format_csdb:</text></g>
<g id="i-cf_iupac_extended"><rect class="g" x="3597" y="1370" width="109" height="49"/><text class="m" x="3651" y="1383">carbohydrate_</text><text class="m" x="3651" y="1398">format_iupac_</text><text class="m" x="3651" y="1413">extended:</text></g>
<g id="i-cf_glycoct"><rect class="g" x="3481" y="1388" width="110" height="45"/><text class="m" x="3536" y="1402">carbohydrate_</text><text class="m" x="3536" y="1417">format_glycoct:</text></g>
<g id="i-cf_iupac_condensed"><rect class="g" x="3597" y="1446" width="109" height="49"/><text class="m" x="3651" y="1459">carbohydrate_</text><text class="m" x="3651" y="1474">format_iupac_</text><text class="m" x="3651" y="1489">condensed:</text></g>
<g id="i-cf_kcf"><rect class="g" x="3367" y="1504" width="110" height="45"/><text class="m" x="3422" y="1518">carbohydrate_</text><text class="m" x="3422" y="1533">format_kcf:</text></g>
<g id="i-cf_linucs"><rect class="g" x="3361" y="1573" width="110" height="45"/><text class="m" x="3416" y="1587">carbohydrate_</text><text class="m" x="3416" y="1602">format_linucs:</text></g>
<g id="i-synthetic_type_enzymatic"><rect class="g" x="789" y="1558" width="110" height="45"/><text class="m" x="844" y="1572">synthetic_type_</text><text class="m" x="844" y="1587">enzymatic:</text></g>
<g id="i-synthetic_type_chemoenzymetic"><rect class="g" x="789" y="1609" width="110" height="45"/><text class="m" x="844" y="1623">synthetic_type_</text><text class="m" x="844" y="1638">chemoenzymetic:</text></g>
<g id="i-synthetic_type_chemical"><rect class="g" x="1091" y="1655" width="110" height="45"/><text class="m" x="1146" y="1669">synthetic_type_</text><text class="m" x="1146" y="1684">chemical:</text></g>
<g id="i-repeat_attribute_average"><rect class="g" x="960" y="1702" width="110" height="45"/><text class="m" x="1015" y="1716">repeat_attribute_</text><text class="m" x="1015" y="1731">average:</text></g>
<g id="i-repeat_attribute_unknown"><rect class="g" x="658" y="1788" width="110" height="45"/><text class="m" x="713" y="1802">repeat_attribute_</text><text class="m" x="713" y="1817">unknown:</text></g>
<g id="i-repeat_attribute_max"><rect class="g" x="775" y="1788" width="110" height="45"/><text class="m" x="830" y="1802">repeat_attribute_</text><text class="m" x="830" y="1817">max:</text></g>
<g id="i-repeat_attribute_min"><rect class="g" x="862" y="1858" width="110" height="45"/><text class="m" x="917" y="1872">repeat_attribute_</text><text class="m" x="917" y="1887">min:</text></g>
<g id="i-repeat_attribute_exact"><rect class="g" x="1075" y="1846" width="110" height="45"/><text class="m" x="1130" y="1860">repeat_attribute_</text><text class="m" x="1130" y="1875">exact:</text></g>
<g id="i-ms_ionisation_maldi"><rect class="g" x="1050" y="2007" width="110" height="49"/><text class="m" x="1105" y="2020">mass_</text><text class="m" x="1105" y="2035">spectrometry_</text><text class="m" x="1105" y="2050">ionisation_maldi:</text></g>
<g id="i-ms_ionisation_esi"><rect class="g" x="1165" y="2007" width="110" height="49"/><text class="m" x="1220" y="2020">mass_</text><text class="m" x="1220" y="2035">spectrometry_</text><text class="m" x="1220" y="2050">ionisation_esi:</text></g>
<g id="i-ms_mode_negative"><rect class="g" x="1632" y="1973" width="110" height="49"/><text class="m" x="1687" y="1986">mass_</text><text class="m" x="1687" y="2001">spectrometry_</text><text class="m" x="1687" y="2016">mode_negative:</text></g>
<g id="i-ms_mode_both"><rect class="g" x="1447" y="2019" width="109" height="49"/><text class="m" x="1501" y="2032">mass_</text><text class="m" x="1501" y="2047">spectrometry_</text><text class="m" x="1501" y="2062">mode_both:</text></g>
<g id="i-ms_mode_positiv"><rect class="g" x="1815" y="2112" width="110" height="48"/><text class="m" x="1870" y="2125">mass_</text><text class="m" x="1870" y="2140">spectrometry_</text><text class="m" x="1870" y="2155">mode_positiv:</text></g>
<g id="i-symbol_format_uoxf"><rect class="g" x="2123" y="1986" width="110" height="44"/><text class="m" x="2178" y="2000">symbol_format_</text><text class="m" x="2178" y="2015">uoxf:</text></g>
<g id="i-symbol_format_cfg"><rect class="g" x="2238" y="1986" width="110" height="44"/><text class="m" x="2293" y="2000">symbol_format_</text><text class="m" x="2293" y="2015">cfg:</text></g>
</svg>
